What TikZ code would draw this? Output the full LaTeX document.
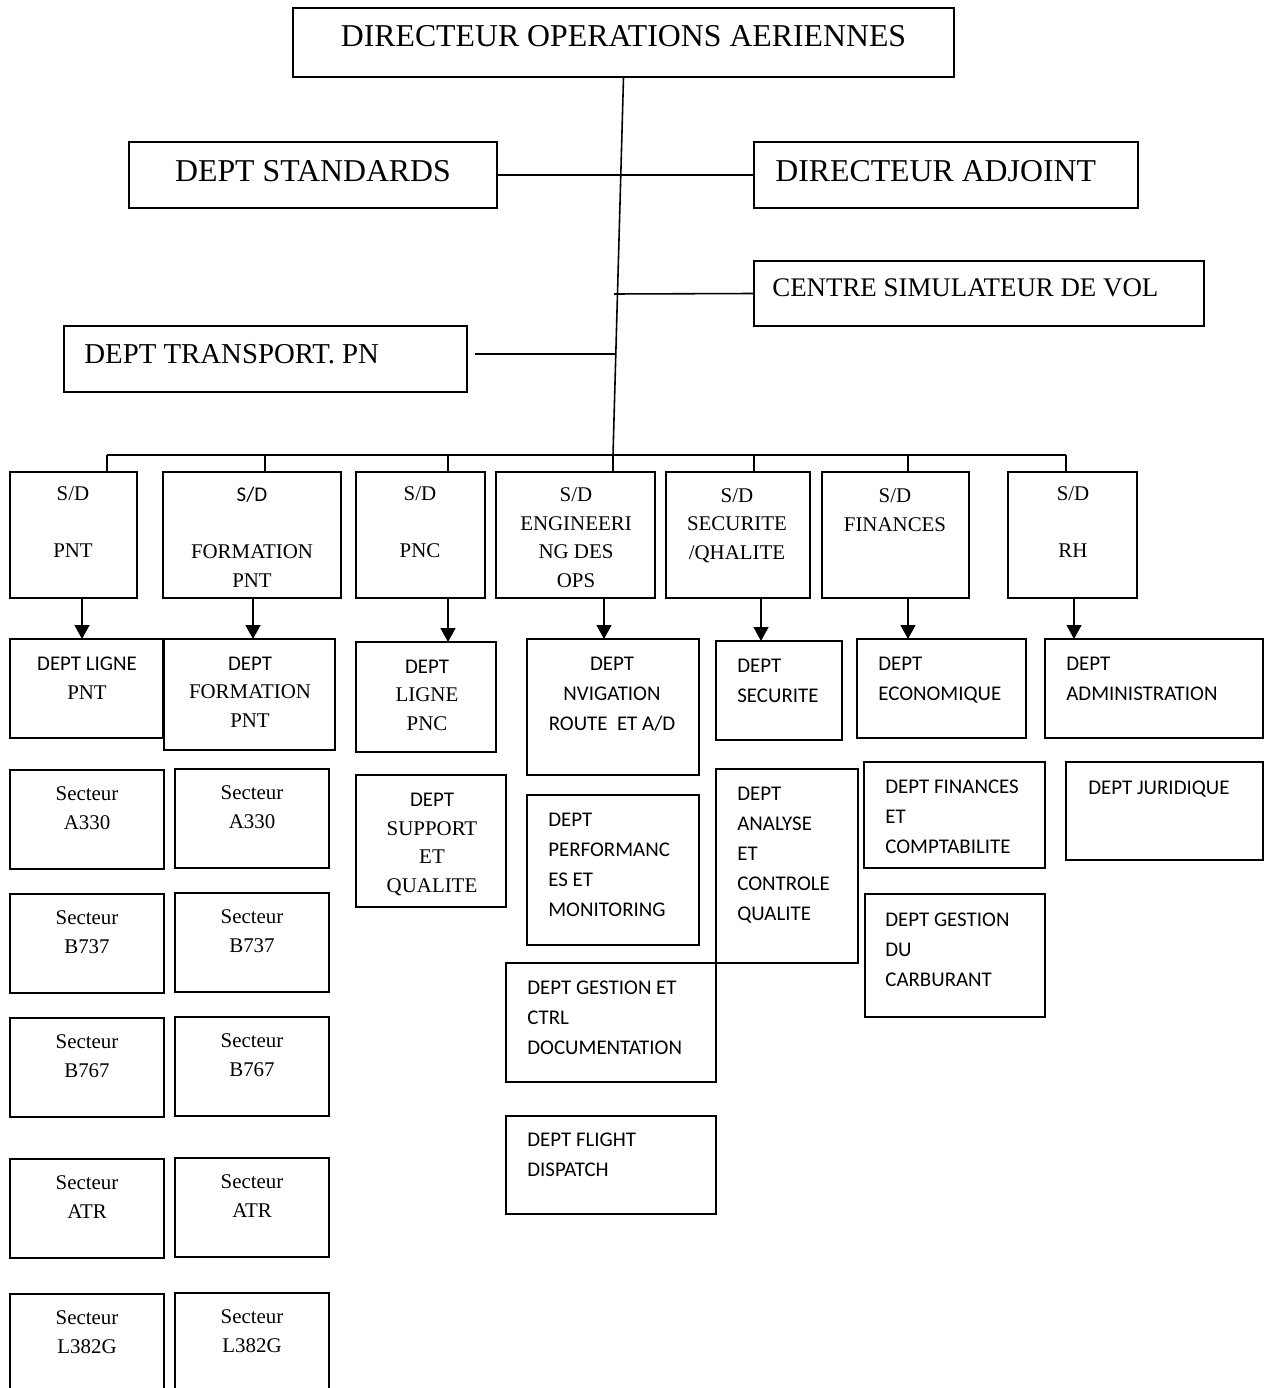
\documentclass[tikz,border=0pt]{standalone}
\usepackage{fontspec}
\setmainfont{Liberation Serif}
\newfontfamily\calibri{Carlito}
\usetikzlibrary{arrows.meta}

\tikzset{
    boite/.style={draw, line width=1pt, inner sep=0pt, outer sep=0pt},
    lien/.style={line width=0.9pt},
    fleche/.style={line width=0.9pt, -{Triangle[width=0.3cm,length=0.28cm]}},
    tnr/.style={inner sep=0pt, align=center, font=\fontsize{11.9}{16.2}\selectfont},
    cal/.style={inner sep=0pt, align=left, font=\calibri\fontsize{11.9}{17}\selectfont},
    titre/.style={inner sep=0pt, font=\fontsize{18.1}{22}\selectfont},
}
% cadre : nom, gauche, haut, droite, bas (en px)
\newcommand{\cadre}[5]{%
    \pgfmathsetmacro{\lrg}{((#4)-(#2))*0.02}%
    \pgfmathsetmacro{\htr}{((#5)-(#3))*0.02}%
    \node[boite, minimum width=\lrg cm, minimum height=\htr cm,
        anchor=north west] (#1) at (#2,#3) {};%
}

\begin{document}
\begin{tikzpicture}[x=0.02cm, y=-0.02cm]
    \useasboundingbox (0,0) rectangle (1270,1388);
    \clip (0,0) rectangle (1270,1388);

    % direction
    \cadre{dir}{293}{8}{954}{77}
    \node[titre, anchor=base] (dir-t) at (623.5,47) {DIRECTEUR OPERATIONS AERIENNES};
    \cadre{std}{129}{142}{497}{208}
    \node[titre, anchor=base] (std-t) at (313,182) {DEPT STANDARDS};
    \cadre{adj}{754}{142}{1138}{208}
    \node[titre, anchor=base west] (adj-t) at (775,182) {DIRECTEUR ADJOINT};
    \cadre{sim}{754}{261}{1204}{326}
    \node[inner sep=0pt, font=\fontsize{15.3}{18}\selectfont, anchor=base west] (sim-t)
        at (772,297) {CENTRE SIMULATEUR DE VOL};
    \cadre{trp}{64}{326}{467}{392}
    \node[inner sep=0pt, font=\fontsize{16.4}{20}\selectfont, anchor=base west] (trp-t)
        at (84,364) {DEPT TRANSPORT. PN};

    \coordinate (tronc) at (613,455);
    \coordinate (busL) at (107,455);
    \coordinate (busR) at (1066,455);
    \coordinate (jsim) at (614,294);
    \coordinate (jtrp) at (616,354);
    \draw[lien] (dir.south) -- (tronc);
    \draw[lien] (std.east) -- (adj.west);
    \draw[lien] (jsim) -- (sim.west);
    \draw[lien, shorten >=0.16cm] (jtrp) -- (jtrp -| trp.east);
    \draw[lien] (busL) -- (busR);

    % sous-directions
    \foreach \nm/\xa/\xb in {sdpnt/10/137, sdform/163/341, sdpnc/356/485, sdeng/496/655,
        sdsec/666/810, sdfin/822/969, sdrh/1008/1137} {
        \cadre{\nm}{\xa}{472}{\xb}{598}
    }
    \node[tnr, anchor=base] (sdpnt-t) at (73,557) {S/D\\~\\PNT};
    \node[tnr, anchor=base] (sdform-t) at (252,587) {{\calibri S/D}\\~\\FORMATION\\PNT};
    \node[tnr, anchor=base] (sdpnc-t) at (420,557) {S/D\\~\\PNC};
    \node[tnr, anchor=base] (sdeng-t) at (576,587) {S/D\\ENGINEERI\\NG DES\\OPS};
    \node[tnr, anchor=base] (sdsec-t) at (737,559) {S/D\\SECURITE\\/QHALITE};
    \node[tnr, anchor=base] (sdfin-t) at (895,531) {S/D\\FINANCES};
    \node[tnr, anchor=base] (sdrh-t) at (1073,557) {S/D\\~\\RH};

    % departements
    \cadre{dlpnt}{10}{639}{163}{738}
    \node[tnr, anchor=base] (dlpnt-t) at (87,699) {{\calibri DEPT LIGNE}\\PNT};
    \cadre{dfpnt}{164}{639}{335}{750}
    \node[tnr, anchor=base] (dfpnt-t) at (250,727) {{\calibri DEPT}\\FORMATION\\PNT};
    \cadre{dlpnc}{356}{642}{496}{752}
    \node[tnr, anchor=base] (dlpnc-t) at (427,730) {{\calibri DEPT}\\LIGNE\\PNC};
    \cadre{dnav}{527}{639}{699}{775}
    \node[cal, align=center, anchor=base] (dnav-t) at (612,730) {DEPT\\NVIGATION\\ROUTE\ \ ET A/D};
    \cadre{dsec}{716}{641}{842}{740}
    \node[cal, anchor=base west] (dsec-t) at (737,702) {DEPT\\SECURITE};
    \cadre{deco}{857}{639}{1026}{738}
    \node[cal, anchor=base west] (deco-t) at (878,700) {DEPT\\ECONOMIQUE};
    \cadre{dadm}{1045}{639}{1263}{738}
    \node[cal, anchor=base west] (dadm-t) at (1066,700) {DEPT\\ADMINISTRATION};

    \foreach \sd/\xd in {sdpnt/107, sdform/265, sdpnc/448, sdeng/613, sdsec/754, sdfin/908, sdrh/1066}
        \draw[lien] (\xd,0 |- busL) -- (\xd,0 |- \sd.north);
    \foreach \sd/\dp/\xf in {sdpnt/dlpnt/82, sdform/dfpnt/253, sdpnc/dlpnc/448, sdeng/dnav/604,
        sdsec/dsec/761, sdfin/deco/908, sdrh/dadm/1074}
        \draw[fleche] (\xf,0 |- \sd.south) -- (\xf,0 |- \dp.north);

    % secteurs
    \foreach \typ/\ya/\yb in {A330/770/869, B737/894/993, B767/1018/1117, ATR/1159/1258, L382G/1294/1400} {
        \cadre{s1-\typ}{10}{\ya}{164}{\yb}
        \cadre{s2-\typ}{175}{\ya-1}{329}{\yb-1}
        \node[tnr, anchor=base] (s1-\typ-t) at (87,\ya+59) {Secteur\\\typ};
        \node[tnr, anchor=base] (s2-\typ-t) at (252,\ya+58) {Secteur\\\typ};
    }

    \cadre{dsup}{356}{775}{506}{907}
    \node[tnr, anchor=base] (dsup-t) at (432,892) {{\calibri DEPT}\\SUPPORT\\ET\\QUALITE};
    \cadre{dperf}{527}{795}{699}{945}
    \node[cal, anchor=base west] (dperf-t) at (548,916) {DEPT\\PERFORMANC\\ES ET\\MONITORING};
    \cadre{danal}{716}{769}{858}{963}
    \node[cal, anchor=base west] (danal-t) at (737,920) {DEPT\\ANALYSE\\ET\\CONTROLE\\QUALITE};
    \cadre{dgest}{506}{963}{716}{1082}
    \node[cal, anchor=base west] (dgest-t) at (527,1054) {DEPT GESTION ET\\CTRL\\DOCUMENTATION};
    \cadre{dflight}{506}{1116}{716}{1214}
    \node[cal, anchor=base west] (dflight-t) at (527,1176) {DEPT FLIGHT\\DISPATCH};
    \cadre{dfinc}{864}{762}{1045}{868}
    \node[cal, anchor=base west] (dfinc-t) at (885,853) {DEPT FINANCES\\ET\\COMPTABILITE};
    \cadre{dcarb}{865}{894}{1045}{1017}
    \node[cal, anchor=base west] (dcarb-t) at (885,986) {DEPT GESTION\\DU\\CARBURANT};
    \cadre{djur}{1066}{762}{1263}{860}
    \node[cal, anchor=base west] (djur-t) at (1088,794) {DEPT JURIDIQUE};
\end{tikzpicture}
\end{document}
